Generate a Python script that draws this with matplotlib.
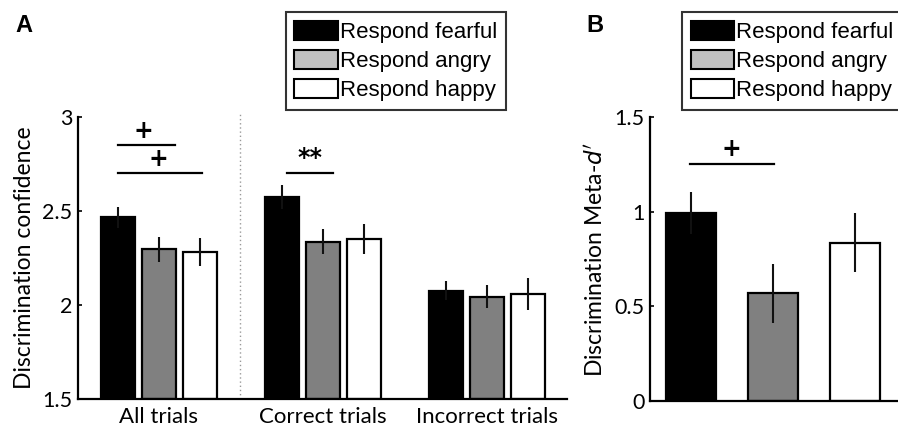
import matplotlib
matplotlib.use("Agg")
import matplotlib.pyplot as plt
from matplotlib.patches import Patch
import numpy as np

# ---- data ----
groups_a = ["All trials", "Correct trials", "Incorrect trials"]
responses = ["Respond fearful", "Respond angry", "Respond happy"]
fearful_a = [2.467, 2.574, 2.076]
angry_a = [2.296, 2.337, 2.044]
happy_a = [2.281, 2.350, 2.057]
fearful_a_err = [0.055, 0.064, 0.05]
angry_a_err = [0.066, 0.066, 0.062]
happy_a_err = [0.075, 0.08, 0.085]

meta_d = [0.993, 0.569, 0.836]
meta_d_err = [0.11, 0.155, 0.156]

yticks_a = [1.5, 2, 2.5, 3]
yticklabels_a = ["1.5", "2", "2.5", "3"]
yticks_b = [0, 0.5, 1, 1.5]
yticklabels_b = ["0", "0.5", "1", "1.5"]

bar_colors = ["#000000", "#808080", "#ffffff"]
legend_colors = ["#000000", "#c0c0c0", "#ffffff"]

tick_font = "Lato"
fig = plt.figure(figsize=(8.98, 4.30), dpi=100)

# ---- Panel A ----
axA = fig.add_axes([0.0869, 0.0721, 0.5441, 0.6559])
x = np.arange(1, 4)
off = 0.25
w = 0.207
for i, (vals, errs) in enumerate(zip([fearful_a, angry_a, happy_a],
                                     [fearful_a_err, angry_a_err, happy_a_err])):
    pos = x + (i - 1) * off
    axA.bar(pos, np.array(vals) - 1.5, bottom=1.5, width=w, color=bar_colors[i],
            edgecolor="black", linewidth=1.6, zorder=2)
    axA.errorbar(pos, vals, yerr=errs, fmt="none", ecolor="#111111",
                 elinewidth=1.5, capsize=0, zorder=3)
axA.set_xlim(0.506, 3.488)
axA.set_ylim(1.5, 3.0)
axA.set_yticks(yticks_a)
axA.set_yticklabels(yticklabels_a, fontsize=15.5, family=tick_font)
axA.set_xticks(x)
axA.set_xticklabels(groups_a, fontsize=16, family=tick_font)
axA.tick_params(axis="x", length=0, pad=6)
axA.tick_params(axis="y", direction="in", length=3, width=1.2, pad=4)
for s in ["top", "right"]:
    axA.spines[s].set_visible(False)
for s in ["left", "bottom"]:
    axA.spines[s].set_linewidth(1.6)
axA.set_ylabel("Discrimination confidence", fontsize=16.5, family=tick_font, labelpad=5)
axA.axvline(1.494, color="#999999", linestyle=(0, (1, 2)), linewidth=1.0,
            ymin=0, ymax=1.01, clip_on=False)

# significance markers A
axA.plot([0.75, 1.10], [2.851, 2.851], color="black", lw=1.6, clip_on=False)
axA.text(0.905, 2.862, "+", ha="center", va="bottom", fontsize=17, fontweight="bold")
axA.plot([0.75, 1.265], [2.702, 2.702], color="black", lw=1.6, clip_on=False)
axA.text(0.995, 2.713, "+", ha="center", va="bottom", fontsize=17, fontweight="bold")
axA.plot([1.78, 2.06], [2.702, 2.702], color="black", lw=1.6, clip_on=False)
axA.text(1.92, 2.72, "**", ha="center", va="bottom", fontsize=17, fontweight="bold")

# ---- Panel B ----
axB = fig.add_axes([0.7238, 0.0674, 0.2752, 0.6606])
wb = 0.61
for i in range(3):
    axB.bar(i + 1, meta_d[i], width=wb, color=bar_colors[i], edgecolor="black",
            linewidth=1.6, zorder=2)
    axB.errorbar(i + 1, meta_d[i], yerr=meta_d_err[i], fmt="none", ecolor="#111111",
                 elinewidth=1.5, capsize=0, zorder=3)
axB.set_xlim(0.5, 3.52)
axB.set_ylim(0, 1.5)
axB.set_xticks([])
axB.set_yticks(yticks_b)
axB.set_yticklabels(yticklabels_b, fontsize=15.5, family=tick_font)
axB.tick_params(axis="y", direction="in", length=3, width=1.2, pad=4)
for s in ["top", "right"]:
    axB.spines[s].set_visible(False)
for s in ["left", "bottom"]:
    axB.spines[s].set_linewidth(1.6)
axB.set_ylabel(r"Discrimination Meta-$d'$", fontsize=16.5, family=tick_font, labelpad=5)
axB.plot([0.99, 2.01], [1.252, 1.252], color="black", lw=1.6, clip_on=False)
axB.text(1.49, 1.265, "+", ha="center", va="bottom", fontsize=17, fontweight="bold")

# ---- legends ----
handles = [Patch(facecolor=legend_colors[i], edgecolor="black", linewidth=1.5,
                 label=responses[i]) for i in range(3)]
leg_kw = dict(handles=handles, loc="upper left", fontsize=16, frameon=True,
              fancybox=False, edgecolor="black", handlelength=1.95,
              handleheight=0.95, handletextpad=0.08, labelspacing=0.3,
              borderpad=0.4, borderaxespad=0)
legA = fig.legend(bbox_to_anchor=(0.318, 0.972), **leg_kw)
legB = fig.legend(bbox_to_anchor=(0.7595, 0.972), **leg_kw)
for leg in (legA, legB):
    leg.get_frame().set_linewidth(1.5)
    for t in leg.get_texts():
        t.set_family("Liberation Sans")

# panel letters
fig.text(0.017, 0.94, "A", fontsize=17, fontweight="bold", family="Liberation Sans",
         va="center")
fig.text(0.653, 0.94, "B", fontsize=17, fontweight="bold", family="Liberation Sans",
         va="center")

fig.savefig("out.png", dpi=100)
